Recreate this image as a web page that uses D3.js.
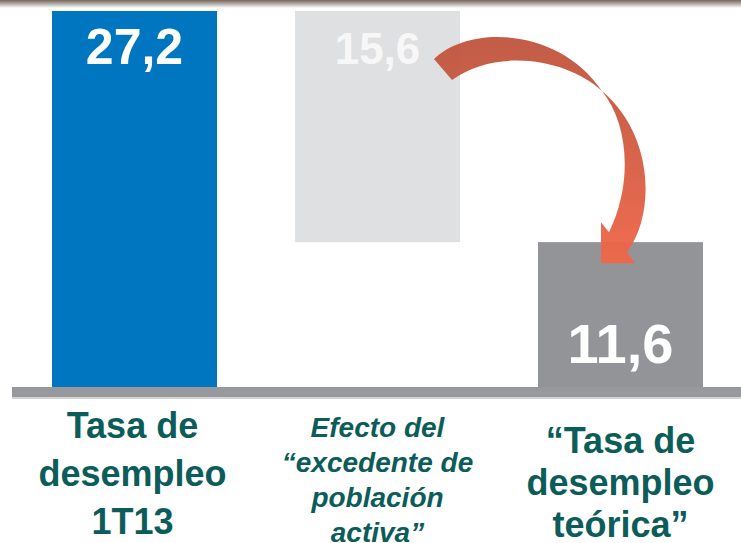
<!DOCTYPE html>
<html>
<head lang="es">
  <meta charset="UTF-8">
  <title>Tasa de desempleo teórica</title>
  <script src="https://cdn.jsdelivr.net/npm/d3@7"></script>
</head>
<style>
  body { margin: 0; background: #fff; }
  #chart text { font-family: "Liberation Sans", Arial, sans-serif; font-weight: bold; }
</style>
<body>

<svg id="chart"></svg>

<script>
  // Data
  var categories  = ['Tasa de desempleo 1T13', 'Efecto del excedente', 'Tasa de desempleo teórica'];
  var values      = [27.2, -15.6, 11.6];
  var valueLabels = ['27,2', '15,6', '11,6'];
  var catLines    = [
    ['Tasa de', 'desempleo', '1T13'],
    ['Efecto del', '\u201Cexcedente de', 'población', 'activa\u201D'],
    ['\u201CTasa de', 'desempleo', 'teórica\u201D']
  ];

  var width  = 741;
  var height = 543;
  var baseY  = 387;   // top of the grey floor line
  var colors = ['#0076c0', '#dfe0e2', '#939498'];
  var labelSize = [50, 44, 56];
  var catStyle  = [
    { size: 36, italic: false, y0: 438, lh: 48 },
    { size: 28, italic: true,  y0: 437, lh: 35 },
    { size: 36, italic: false, y0: 453, lh: 42 }
  ];

  // waterfall: first is a total, middle is a step, last is a total
  var bars = [];
  var running = 0;
  values.forEach(function (v, i) {
    if (i === 0 || i === values.length - 1) {
      bars.push({ i: i, lo: 0, hi: Math.abs(v) });
      running = Math.abs(v);
    } else {
      bars.push({ i: i, lo: running + v, hi: running });
      running = running + v;
    }
  });

  var chart = d3.select('#chart').attr('width', width).attr('height', height);
  var defs = chart.append('defs');

  var x = d3.scaleBand()
    .domain(categories)
    .range([52, 703])
    .paddingInner(0.321)
    .paddingOuter(0);

  var y = d3.scaleLinear()
    .domain([0, 27.2])
    .range([414, 11]);

  // top border shading
  var tg = defs.append('linearGradient').attr('id', 'topShade')
    .attr('x1', 0).attr('y1', 0).attr('x2', 0).attr('y2', 1);
  tg.append('stop').attr('offset', 0).attr('stop-color', '#7a6558');
  tg.append('stop').attr('offset', 0.4).attr('stop-color', '#a8a29e');
  tg.append('stop').attr('offset', 1).attr('stop-color', '#ffffff');
  chart.append('rect')
    .attr('x', 0).attr('y', 0).attr('width', width).attr('height', 8)
    .attr('fill', 'url(#topShade)');

  // bars
  chart.selectAll('rect.bar')
    .data(bars)
    .enter()
      .append('rect')
      .attr('class', 'bar')
      .attr('x', function (d) { return x(categories[d.i]); })
      .attr('y', function (d) { return y(d.hi); })
      .attr('width', x.bandwidth())
      .attr('height', function (d) { return Math.min(y(d.lo), baseY) - y(d.hi); })
      .attr('fill', function (d) { return colors[d.i]; });

  // floor line
  chart.append('rect')
    .attr('x', 12).attr('y', baseY + 10).attr('width', width - 12).attr('height', 2)
    .attr('fill', '#d4d4d6');
  chart.append('rect')
    .attr('x', 12).attr('y', baseY).attr('width', width - 12).attr('height', 10)
    .attr('fill', '#98999d');

  // curved arrow from the step bar to the final bar
  var ag = defs.append('linearGradient').attr('id', 'arrowFill')
    .attr('x1', 0).attr('y1', 0).attr('x2', 0).attr('y2', 1);
  ag.append('stop').attr('offset', 0).attr('stop-color', '#c0563f');
  ag.append('stop').attr('offset', 0.35).attr('stop-color', '#cc5a42');
  ag.append('stop').attr('offset', 1).attr('stop-color', '#f06748');

  var ax = x(categories[1]) + x.bandwidth() - 6;   // right edge of the step bar
  var ay = y(bars[1].hi);
  var bx = x(categories[2]);                      // left edge of the final bar
  var by = y(bars[2].hi);
  function P(px, py) { return px + ',' + py; }
  var arrow =
    'M' + P(ax - 20, ay + 48) +
    'C' + P(ax + 16, ay + 13) + ' ' + P(ax + 106, ay + 17) + ' ' + P(bx + 64, ay + 80) +
    'C' + P(bx + 92, ay + 115) + ' ' + P(bx + 94, ay + 175) + ' ' + P(bx + 71, by - 10) +
    'L' + P(bx + 63, by - 20) +
    'L' + P(bx + 63, by + 21) +
    'L' + P(bx + 97, by + 21) +
    'L' + P(bx + 89, by + 10) +
    'C' + P(bx + 117, by - 27) + ' ' + P(bx + 117, ay + 125) + ' ' + P(bx + 64, ay + 80) +
    'C' + P(bx + 32, ay + 50) + ' ' + P(ax + 46, ay + 35) + ' ' + P(ax - 2, ay + 69) +
    'Z';
  chart.append('path')
    .attr('d', arrow)
    .attr('fill', 'url(#arrowFill)')
    .attr('opacity', 0.96);

  // value labels
  chart.selectAll('text.value')
    .data(bars)
    .enter()
      .append('text')
      .attr('class', 'value')
      .attr('x', function (d) { return x(categories[d.i]) + x.bandwidth() / 2; })
      .attr('y', function (d) {
        return d.i === bars.length - 1 ? baseY - 24 : y(d.hi) + 53;
      })
      .attr('text-anchor', 'middle')
      .attr('font-size', function (d) { return labelSize[d.i]; })
      .attr('fill', function (d) { return d.i === 1 ? '#f7f7f7' : '#ffffff'; })
      .text(function (d) { return valueLabels[d.i]; });

  // category labels
  var cat = chart.selectAll('text.cat')
    .data(catLines)
    .enter()
      .append('text')
      .attr('class', 'cat')
      .attr('text-anchor', 'middle')
      .attr('fill', '#0c5d5a')
      .attr('font-size', function (d, i) { return catStyle[i].size; })
      .attr('font-style', function (d, i) { return catStyle[i].italic ? 'italic' : 'normal'; });

  cat.each(function (lines, i) {
    var cx = x(categories[i]) + x.bandwidth() / 2 + (i === 0 ? -2 : 0);
    d3.select(this).selectAll('tspan')
      .data(lines)
      .enter()
        .append('tspan')
        .attr('x', cx)
        .attr('y', function (l, k) { return catStyle[i].y0 + k * catStyle[i].lh; })
        .text(function (l) { return l; });
  });
</script>
</body>
</html>
